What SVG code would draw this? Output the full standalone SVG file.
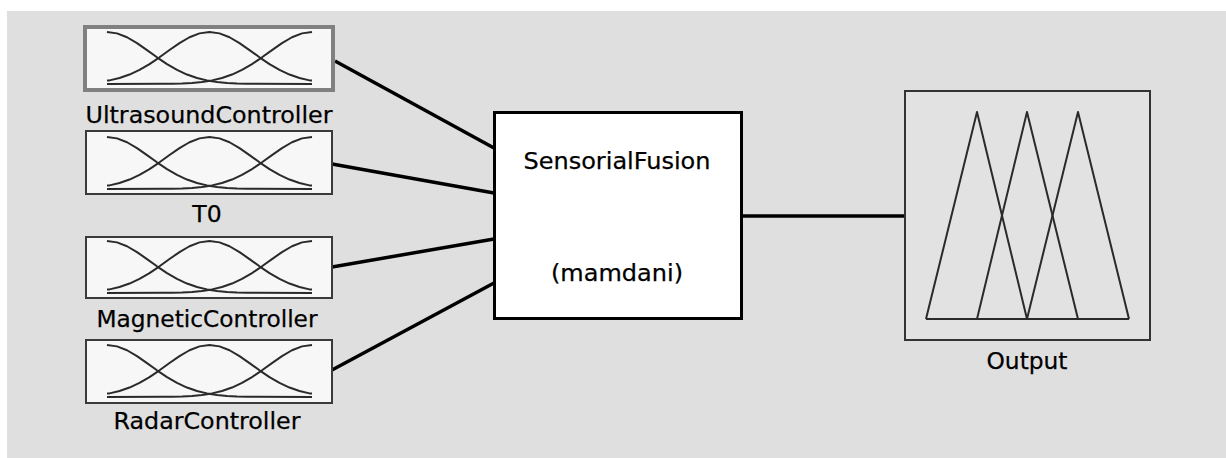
<svg xmlns="http://www.w3.org/2000/svg" xmlns:xlink="http://www.w3.org/1999/xlink" width="1226" height="458" viewBox="0 0 1226 458">
  <style>
    .label { font-family: "DejaVu Sans", "Liberation Sans", sans-serif; font-size: 23.5px; fill: #000; stroke: #000; stroke-width: 0.25; text-anchor: middle; }
    .inbox { fill: #f7f7f7; stroke: #3a3a3a; stroke-width: 2; }
    .inbox.selected { stroke: #808080; stroke-width: 4; }
    .mf { fill: none; stroke: #2a2a2a; stroke-width: 2; stroke-linejoin: round; }
    .edge { stroke: #000; stroke-width: 3.5; fill: none; }
  </style>
  <defs>
    <!-- three gaussian membership functions, 205 wide, 52 high -->
    <g id="gauss3" class="mf">
      <polyline points="0,0 10,1.37 20,5.26 30,11.1 40,18.06 50,25.3 60,32.09 70,37.92 80,42.56 90,46 100,48.39 110,49.94 120,50.88 130,51.43 140,51.72 150,51.87 205,52"/>
      <polyline points="205,0 195,1.37 185,5.26 175,11.1 165,18.06 155,25.3 145,32.09 135,37.92 125,42.56 115,46 105,48.39 95,49.94 85,50.88 75,51.43 65,51.72 55,51.87 0,52"/>
      <polyline points="0,48.6 2.5,48.39 12.5,46 22.5,42.56 32.5,37.92 42.5,32.09 52.5,25.3 62.5,18.06 72.5,11.1 82.5,5.26 92.5,1.37 102.5,0 112.5,1.37 122.5,5.26 132.5,11.1 142.5,18.06 152.5,25.3 162.5,32.09 172.5,37.92 182.5,42.56 192.5,46 202.5,48.39 205,48.6"/>
    </g>
  </defs>

  <!-- canvas -->
  <rect x="0" y="0" width="1226" height="458" fill="#ffffff"/>
  <rect x="7" y="11" width="1219" height="447" fill="#dfdfdf"/>

  <!-- connectors -->
  <g id="connectors">
    <line class="edge" x1="335" y1="61" x2="494" y2="148"/>
    <line class="edge" x1="332" y1="164" x2="494" y2="193"/>
    <line class="edge" x1="332" y1="267" x2="494" y2="239"/>
    <line class="edge" x1="332" y1="370" x2="494" y2="283"/>
    <line class="edge" x1="742" y1="216" x2="905" y2="216"/>
  </g>

  <g id="ultrasound-controller">
    <rect class="inbox selected" x="85" y="27" width="248" height="63"/>
    <use xlink:href="#gauss3" x="107" y="32"/>
    <text class="label" x="209" y="123" textLength="247" lengthAdjust="spacingAndGlyphs">UltrasoundController</text>
  </g>

  <g id="t0">
    <rect class="inbox" x="86" y="131" width="246" height="63"/>
    <use xlink:href="#gauss3" x="107" y="137"/>
    <text class="label" x="207" y="222">T0</text>
  </g>

  <g id="magnetic-controller">
    <rect class="inbox" x="86" y="237" width="246" height="61"/>
    <use xlink:href="#gauss3" x="107" y="241"/>
    <text class="label" x="207" y="327" textLength="221" lengthAdjust="spacingAndGlyphs">MagneticController</text>
  </g>

  <g id="radar-controller">
    <rect class="inbox" x="86" y="340" width="246" height="63"/>
    <use xlink:href="#gauss3" x="107" y="345"/>
    <text class="label" x="207" y="429" textLength="187" lengthAdjust="spacingAndGlyphs">RadarController</text>
  </g>

  <g id="sensorial-fusion">
    <rect x="494.5" y="112.5" width="247" height="206" fill="#ffffff" stroke="#000" stroke-width="3"/>
    <text class="label" x="617" y="169" textLength="187" lengthAdjust="spacingAndGlyphs">SensorialFusion</text>
    <text class="label" x="617" y="281" textLength="132" lengthAdjust="spacingAndGlyphs">(mamdani)</text>
  </g>

  <g id="output">
    <rect x="905" y="91" width="245" height="249" fill="#e2e2e2" stroke="#333" stroke-width="2"/>
    <g class="mf">
      <polyline points="926,319 977,112 1027,319"/>
      <polyline points="977,319 1027,112 1078,319"/>
      <polyline points="1027,319 1078,112 1129,319"/>
      <line x1="926" y1="319" x2="1129" y2="319"/>
    </g>
    <text class="label" x="1027" y="369" textLength="81" lengthAdjust="spacingAndGlyphs">Output</text>
  </g>
</svg>
